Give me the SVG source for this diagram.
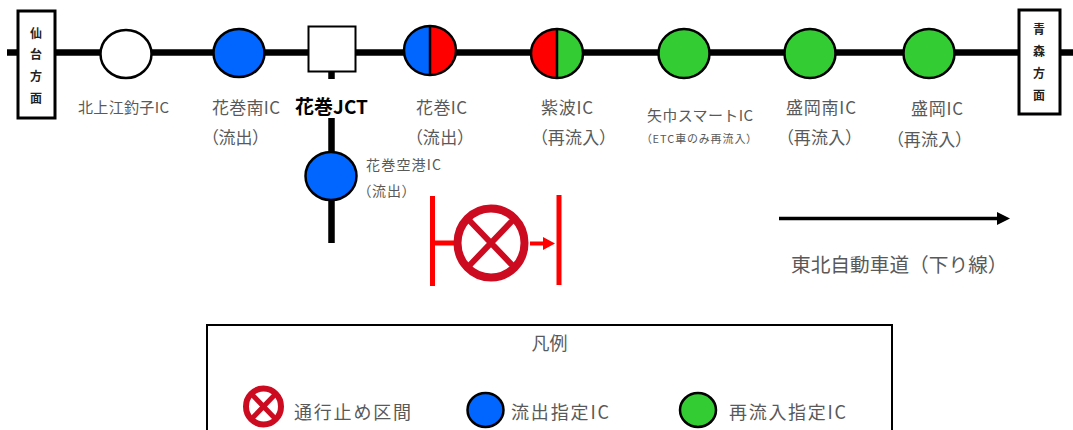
<svg xmlns="http://www.w3.org/2000/svg" width="1073" height="430" viewBox="0 0 1073 430">
<style>
text{font-family:"Noto Sans CJK JP","Noto Sans",sans-serif;fill:#595959;dominant-baseline:central}
.s18{font-size:17px}.s15{font-size:15px}.s14{font-size:14px}.s11{font-size:11px}.s19{font-size:18px}
.p{font-feature-settings:"palt"}
.dir{font-size:12px;font-weight:700;fill:#222;text-anchor:middle}
.road{stroke:#000;stroke-width:6.5;fill:none}
.ic{stroke:#000;stroke-width:2.5}
.blue{fill:#0066ff}.green{fill:#33cc33}.red{fill:#ff0000}.white{fill:#fff}
.box{fill:#fff;stroke:#000;stroke-width:3}
.rl{stroke:#ff0000;stroke-width:5;fill:none}
.stop{fill:none;stroke:#cc0a20}
</style>
<defs>
<marker id="bh" markerUnits="userSpaceOnUse" markerWidth="13" markerHeight="13" refX="0" refY="6.5" orient="auto"><path d="M0 0L13 6.5L0 13Z" fill="#000"/></marker>
<marker id="rh" markerUnits="userSpaceOnUse" markerWidth="12" markerHeight="13" refX="0" refY="6.5" orient="auto"><path d="M0 0L12 6.5L0 13Z" fill="#ff0000"/></marker>
</defs>
<g id="connectors">
<path class="road" d="M7 52.5H1073"/>
<path class="road" d="M331.500 70V79M331.500 118V243"/>
<path d="M779 218.500H997" stroke="#000" stroke-width="3.500" marker-end="url(#bh)"/>
<path class="rl" d="M432.500 196V286M559 195V285M432 243H456"/>
<path d="M530 243.500H543" stroke="#ff0000" stroke-width="4" marker-end="url(#rh)"/>
</g>
<g id="sendai"><rect class="box" x="18" y="11" width="37" height="107"/>
<text class="dir" x="36" y="32">仙</text><text class="dir" x="36" y="53.500">台</text><text class="dir" x="36" y="75">方</text><text class="dir" x="36" y="97">面</text></g>
<g id="aomori"><rect class="box" x="1019" y="10" width="41" height="104"/>
<text class="dir" x="1039" y="28">青</text><text class="dir" x="1039" y="50">森</text><text class="dir" x="1039" y="72">方</text><text class="dir" x="1039" y="94">面</text></g>
<g id="kitakami"><ellipse class="ic white" cx="126" cy="54" rx="25.500" ry="24"/>
<text class="s15" x="78" y="106" textLength="91">北上江釣子IC</text></g>
<g id="hanamaki-minami"><ellipse class="ic blue" cx="239" cy="53" rx="25.500" ry="24"/>
<text class="s18" x="212" y="106" textLength="68">花巻南IC</text><text class="s18 p" x="210" y="136" textLength="51">（流出）</text></g>
<g id="hanamaki-jct"><rect x="308.500" y="26.500" width="47" height="45" fill="#fff" stroke="#000" stroke-width="2"/>
<text x="295" y="105" font-size="19" font-weight="700" style="fill:#000" textLength="73">花巻JCT</text></g>
<g id="hanamaki"><path class="red" d="M430 26A26 24.500 0 0 1 430 75Z"/><path class="blue" d="M430 26A26 24.500 0 0 0 430 75Z"/>
<ellipse class="ic" fill="none" cx="430" cy="50.500" rx="26" ry="24.500"/><path d="M430 26V75" stroke="#000" stroke-width="2.500"/>
<text class="s18" x="416" y="106" textLength="51">花巻IC</text><text class="s18 p" x="414" y="136" textLength="52">（流出）</text></g>
<g id="hanamaki-kuko"><ellipse class="ic blue" cx="331" cy="176" rx="25.500" ry="24"/>
<text class="s14" x="366" y="164" textLength="75">花巻空港IC</text><text class="s14 p" x="364" y="190" textLength="45">（流出）</text></g>
<g id="shiwa"><path class="red" d="M557 29A26 24.500 0 0 0 557 78Z"/><path class="green" d="M557 29A26 24.500 0 0 1 557 78Z"/>
<ellipse class="ic" fill="none" cx="557" cy="53.500" rx="26" ry="24.500"/><path d="M557 29V78" stroke="#000" stroke-width="2.500"/>
<text class="s18" x="541" y="106" textLength="52">紫波IC</text><text class="s18 p" x="539" y="136" textLength="69">（再流入）</text></g>
<g id="yahaba"><ellipse class="ic green" cx="684" cy="53.500" rx="25.500" ry="24.500"/>
<text class="s15" x="647" y="114" textLength="106">矢巾スマートIC</text><text class="s11 p" x="646" y="138" textLength="106">（ETC車のみ再流入）</text></g>
<g id="morioka-minami"><ellipse class="ic green" cx="810" cy="53.500" rx="25.500" ry="24.500"/>
<text class="s18" x="786" y="106" textLength="70">盛岡南IC</text><text class="s18 p" x="785" y="136" textLength="69">（再流入）</text></g>
<g id="morioka"><ellipse class="ic green" cx="929" cy="53.500" rx="25.500" ry="24.500"/>
<text class="s18" x="911" y="107" textLength="52">盛岡IC</text><text class="s18 p" x="895" y="138" textLength="69">（再流入）</text></g>
<g id="closure"><ellipse class="stop" cx="491" cy="243" rx="33.500" ry="34.500" stroke-width="8"/>
<path class="stop" stroke-width="6" d="M467.500 218.500L514.500 267.500M514.500 218.500L467.500 267.500"/></g>
<text x="791" y="263" font-size="19.700">東北自動車道（下り線）</text>
<g id="legend"><rect x="207" y="325" width="685" height="120" fill="#fff" stroke="#000" stroke-width="2"/>
<text x="549.500" y="342" font-size="18" text-anchor="middle">凡例</text>
<ellipse class="stop" cx="263.500" cy="406.500" rx="17.500" ry="18" stroke-width="6"/>
<path class="stop" stroke-width="5" d="M251 393.500L276 419.500M276 393.500L251 419.500"/>
<text class="s19" x="294" y="411" textLength="117">通行止め区間</text>
<ellipse class="ic blue" cx="485.500" cy="410" rx="18" ry="17"/>
<text class="s19" x="511" y="411" textLength="98">流出指定IC</text>
<ellipse class="ic green" cx="698" cy="410" rx="18" ry="17"/>
<text class="s19" x="729" y="411" textLength="117">再流入指定IC</text></g>
</svg>
